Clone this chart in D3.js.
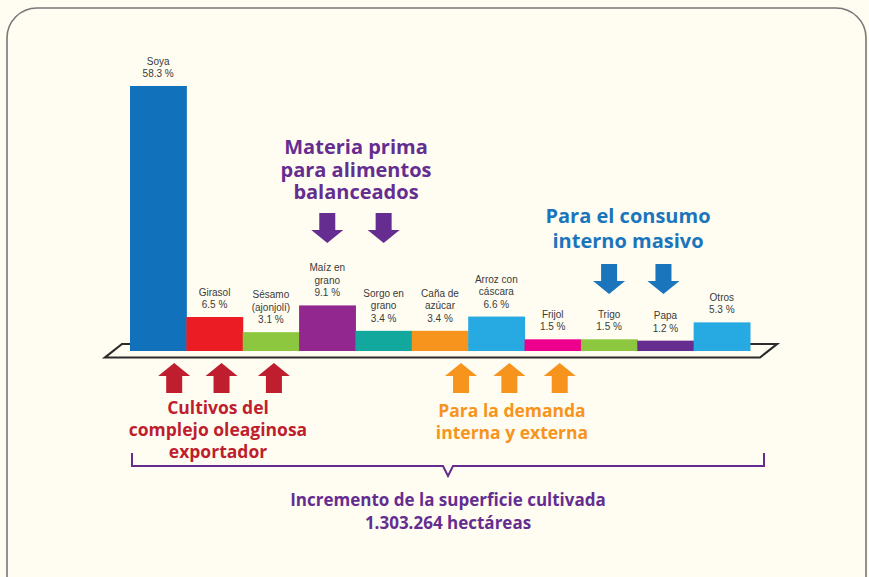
<!DOCTYPE html>
<html>
<head>
<meta charset="utf-8">
<script src="https://cdn.jsdelivr.net/npm/d3@7"></script>
<style>
  body { margin: 0; background: #fffdf1; }
  svg { display: block; }
  .lbl { font-family: "Liberation Sans", Arial, sans-serif; font-size: 10px; fill: #3a3a3a; }
  .head { font-family: "Open Sans", sans-serif; font-weight: 700; }
</style>
</head>
<body>
<div id="chart"></div>
<script>

// data
var crops = ['Soya', 'Girasol', 'Sésamo', 'Maíz', 'Sorgo', 'Caña', 'Arroz', 'Frijol', 'Trigo', 'Papa', 'Otros'];
var shares = [58.3, 6.5, 3.1, 9.1, 3.4, 3.4, 6.6, 1.5, 1.5, 1.2, 5.3];
var labels = [
  ['Soya', '58.3 %'],
  ['Girasol', '6.5 %'],
  ['Sésamo', '(ajonjolí)', '3.1 %'],
  ['Maíz en', 'grano', '9.1 %'],
  ['Sorgo en', 'grano', '3.4 %'],
  ['Caña de', 'azúcar', '3.4 %'],
  ['Arroz con', 'cáscara', '6.6 %'],
  ['Frijol', '1.5 %'],
  ['Trigo', '1.5 %'],
  ['Papa', '1.2 %'],
  ['Otros', '5.3 %']
];
var colors = ['#1172bb', '#ec1c24', '#8dc63f', '#92278f', '#13a89e', '#f7941d', '#27aae1', '#ec008c', '#8dc63f', '#662d91', '#27aae1'];

var settings = {
  width: 869, height: 577,
  left: 130, right: 750,
  base: 351, top: 86
};

var svg = d3.select('#chart').append('svg')
  .attr('width', settings.width)
  .attr('height', settings.height);

// frame
svg.append('rect')
  .attr('x', 7).attr('y', 8)
  .attr('width', 859).attr('height', 600)
  .attr('rx', 30).attr('ry', 30)
  .attr('fill', '#fffdf1')
  .attr('stroke', '#777').attr('stroke-width', 1.6);

var scaleX = d3.scaleBand()
  .domain(crops)
  .range([settings.left, settings.right])
  .padding(0);

var scaleY = d3.scaleLinear()
  .domain([0, d3.max(shares)])
  .range([settings.base - 5, settings.top]);

// platform
var platform = svg.append('g')
  .attr('fill', 'none')
  .attr('stroke', '#2b2b2b')
  .attr('stroke-width', 2.2);
platform.append('path')
  .attr('d', 'M105,357.5 L760,357.5 L777,344 L122,344 Z');

// bars
svg.append('g').selectAll('rect')
  .data(crops)
  .enter()
  .append('rect')
  .attr('x', function(d) { return scaleX(d); })
  .attr('width', scaleX.bandwidth() + 0.5)
  .attr('y', function(d, i) { return scaleY(shares[i]); })
  .attr('height', function(d, i) { return settings.base - scaleY(shares[i]); })
  .attr('fill', function(d, i) { return colors[i]; });

// bar labels
svg.append('g').selectAll('text')
  .data(crops)
  .enter()
  .append('text')
  .classed('lbl', true)
  .attr('text-anchor', 'middle')
  .attr('x', function(d) { return scaleX(d) + scaleX.bandwidth() / 2; })
  .attr('y', function(d, i) { return scaleY(shares[i]) - 9 - (labels[i].length - 1) * 12.5; })
  .each(function(d, i) {
    var t = d3.select(this);
    labels[i].forEach(function(line, j) {
      t.append('tspan')
        .attr('x', t.attr('x'))
        .attr('dy', j === 0 ? 0 : 12.5)
        .text(line);
    });
  });

// arrows
function arrow(g, cx, y0, dir, color) {
  var w = 32, sw = 16, hh = 13, len = 30;
  var p;
  if (dir === 'up') {
    p = [[cx, y0], [cx + w / 2, y0 + hh], [cx + sw / 2, y0 + hh], [cx + sw / 2, y0 + len],
         [cx - sw / 2, y0 + len], [cx - sw / 2, y0 + hh], [cx - w / 2, y0 + hh]];
  } else {
    p = [[cx - sw / 2, y0], [cx + sw / 2, y0], [cx + sw / 2, y0 + len - hh], [cx + w / 2, y0 + len - hh],
         [cx, y0 + len], [cx - w / 2, y0 + len - hh], [cx - sw / 2, y0 + len - hh]];
  }
  g.append('path')
    .attr('d', d3.line()(p) + 'Z')
    .attr('fill', color);
}

var groups = [
  { crops: ['Soya', 'Girasol', 'Sésamo'], dx: [16, 7, 3], dir: 'up', y: 363, color: '#be1e2d',
    text: ['Cultivos del', 'complejo oleaginosa', 'exportador'], tx: 218, ty: 414, size: 17.5, lh: 22 },
  { crops: ['Caña', 'Arroz', 'Frijol'], dx: [21, 13, 7], dir: 'up', y: 363, color: '#f7941d',
    text: ['Para la demanda', 'interna y externa'], tx: 512, ty: 417, size: 17.5, lh: 22 },
  { crops: ['Maíz', 'Sorgo'], dx: [0, 0], dir: 'down', y: 213, color: '#662d91',
    text: ['Materia prima', 'para alimentos', 'balanceados'], tx: 356, ty: 154, size: 20, lh: 22.5 },
  { crops: ['Trigo', 'Papa'], dx: [0, -2], dir: 'down', y: 264, color: '#1b75bc',
    text: ['Para el consumo', 'interno masivo'], tx: 628, ty: 223, size: 20, lh: 24.5 }
];

var annot = svg.append('g');
groups.forEach(function(gr) {
  gr.crops.forEach(function(c, k) {
    arrow(annot, scaleX(c) + scaleX.bandwidth() / 2 + gr.dx[k], gr.y, gr.dir, gr.color);
  });
  var t = annot.append('text')
    .classed('head', true)
    .attr('text-anchor', 'middle')
    .attr('fill', gr.color)
    .style('font-size', gr.size + 'px')
    .attr('y', gr.ty);
  gr.text.forEach(function(line, j) {
    t.append('tspan').attr('x', gr.tx).attr('dy', j === 0 ? 0 : gr.lh).text(line);
  });
});

// brace
svg.append('path')
  .attr('d', 'M132,453 L132,466 L443,466 L448,476 L453,466 L764,466 L764,453')
  .attr('fill', 'none')
  .attr('stroke', '#662d91')
  .attr('stroke-width', 2);

var total = svg.append('text')
  .classed('head', true)
  .attr('text-anchor', 'middle')
  .attr('fill', '#662d91')
  .style('font-size', '17px')
  .attr('y', 506);
total.append('tspan').attr('x', 448).text('Incremento de la superficie cultivada');
total.append('tspan').attr('x', 448).attr('dy', 23).text('1.303.264 hectáreas');

</script>
</body>
</html>
